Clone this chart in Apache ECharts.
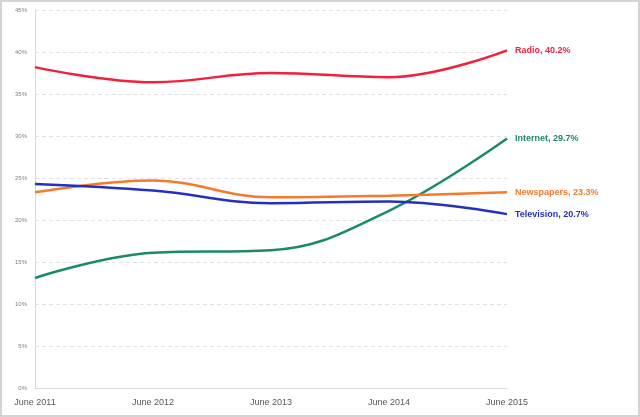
<!DOCTYPE html>
<html>
<head>
<meta charset="utf-8">
<script src="https://cdn.jsdelivr.net/npm/echarts@6/dist/echarts.min.js"></script>
<style>
  html, body { margin: 0; padding: 0; background: #fff; }
  #chart { width: 636px; height: 413px; border: 2px solid #d4d4d4; }
</style>
</head>
<body>
<div id="chart"></div>
<script>
const years = ['June 2011', 'June 2012', 'June 2013', 'June 2014', 'June 2015']
const radio = [38.2, 36.4, 37.5, 37.0, 40.2]
const internet = [13.1, 16.1, 16.4, 21.1, 29.7]
const newspapers = [23.3, 24.7, 22.7, 22.9, 23.3]
const television = [24.3, 23.5, 22.0, 22.2, 20.7]
const yTicks = [0, 5, 10, 15, 20, 25, 30, 35, 40, 45]

const seriesDefs = [
  { name: 'Radio', data: radio, color: '#f2203c' },
  { name: 'Internet', data: internet, color: '#1b8a6b' },
  { name: 'Newspapers', data: newspapers, color: '#f57a2c' },
  { name: 'Television', data: television, color: '#2430c0' },
]

const myChart = echarts.init(document.getElementById('chart'))

myChart.setOption({
  animation: false,
  grid: { left: 33, right: 131, top: 8, bottom: 27 },
  xAxis: {
    type: 'category',
    data: years,
    boundaryGap: false,
    axisLine: { lineStyle: { color: '#d9d9d9', width: 1 } },
    axisTick: { show: false },
    axisLabel: { color: '#595959', fontSize: 9, fontFamily: 'Liberation Sans', margin: 10 },
  },
  yAxis: {
    type: 'value',
    min: yTicks[0],
    max: yTicks[yTicks.length - 1],
    interval: 5,
    axisLine: { show: true, lineStyle: { color: '#d9d9d9', width: 1 } },
    axisTick: { show: false },
    axisLabel: { color: '#7f7f7f', fontSize: 6, fontFamily: 'Liberation Sans', formatter: '{value}%', margin: 8 },
    splitLine: { lineStyle: { type: [4, 3], color: '#e2e2e2' } },
  },
  series: seriesDefs.map((s) => ({
    name: s.name,
    type: 'line',
    data: s.data,
    smooth: 0.4,
    symbol: 'none',
    lineStyle: { color: s.color, width: 2.5 },
    endLabel: {
      show: true,
      color: s.color,
      fontSize: 9,
      fontWeight: 'bold',
      fontFamily: 'Liberation Sans',
      distance: 8,
      formatter: (p) => `${s.name}, ${p.value}%`,
    },
  })),
})
</script>
</body>
</html>
